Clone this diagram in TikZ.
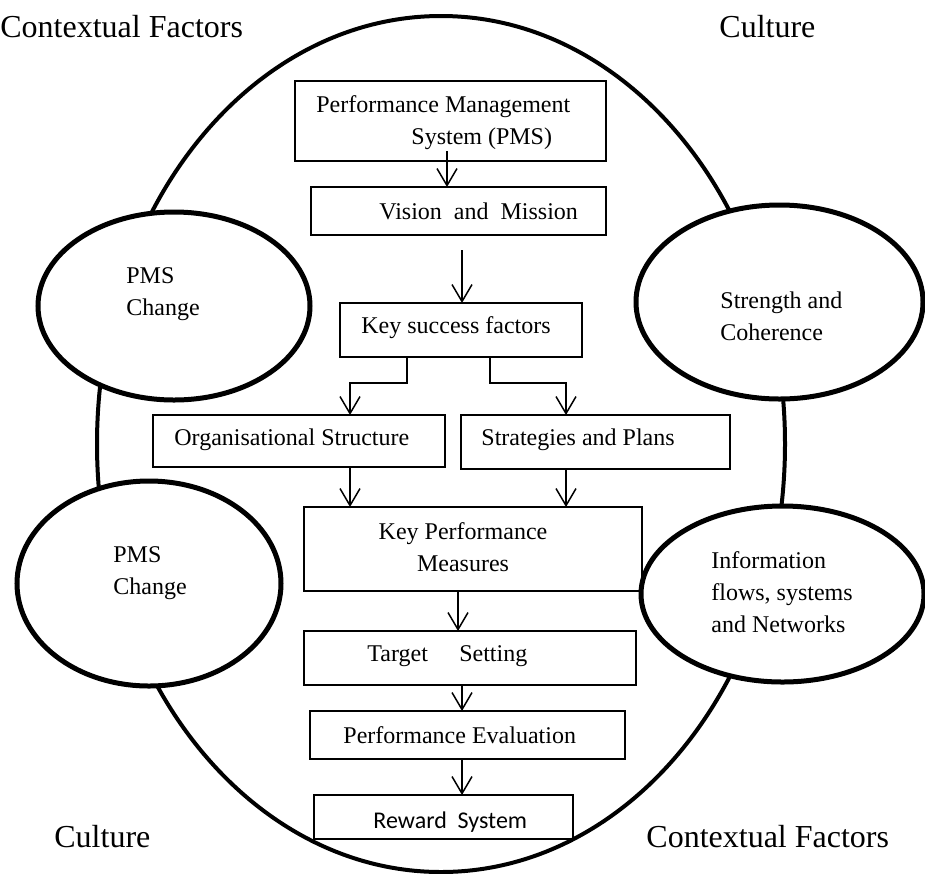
\documentclass[tikz,border=0pt]{standalone}
\usepackage{fontspec}
\setmainfont{Liberation Serif}
\newfontfamily\calibri{Carlito}
\usetikzlibrary{shapes.geometric,arrows.meta}

\begin{document}
\begin{tikzpicture}[x=0.5pt,y=-0.5pt,
  box/.style={draw,line width=0.75pt,inner sep=0pt,outer sep=0pt},
  ring/.style={draw,ellipse,line width=2.5pt,fill=white,inner sep=0pt,outer sep=0pt},
  txt/.style={inner sep=0pt,anchor=west,align=left,font=\fontsize{12}{16}\selectfont},
  big/.style={inner sep=0pt,anchor=west,font=\fontsize{16}{19}\selectfont},
  arr/.style={line width=0.75pt,-{Straight Barb[length=8.5pt,width=10pt]}}]
\useasboundingbox (0,0) rectangle (925,873);
\draw[line width=2pt] (441,444) ellipse [x radius=172pt, y radius=214pt];

% side circles
\node[ring,minimum width=136pt,minimum height=94pt] (chg1) at (174,306) {};
\node[ring,minimum width=143.5pt,minimum height=97pt] (coh) at (779.5,302) {};
\node[ring,minimum width=132pt,minimum height=102.5pt] (chg2) at (149,583.5) {};
\node[ring,minimum width=141.5pt,minimum height=88pt] (info) at (782.5,594) {};
\node[txt] (chg1t) at (126,294) {PMS\\Change};
\node[txt] (coht) at (720,316) {Strength and\\Coherence};
\node[txt] (chg2t) at (113,573) {PMS\\Change};
\node[txt] (infot) at (711,592) {Information\\flows, systems\\and Networks};

% corner labels
\node[big] (cf1) at (0,27) {Contextual Factors};
\node[big] (cu1) at (719,27) {Culture};
\node[big] (cu2) at (54,837) {Culture};
\node[big] (cf2) at (646,837) {Contextual Factors};

% boxes
\node[box,minimum width=155.5pt,minimum height=40pt] (pms) at (450.5,121) {};
\node[txt] (pmst) at (316,122.5) {Performance Management\\\hspace*{47.5pt}System (PMS)};
\node[box,line width=1.2pt,minimum width=147.5pt,minimum height=24pt] (vm) at (458.5,211) {};
\node[txt] (vmt) at (379,211) {Vision\ \ and\ \ Mission};
\node[box,minimum width=121pt,minimum height=27pt] (ksf) at (461,330) {};
\node[txt] (ksft) at (361,328) {Key success factors};
\node[box,minimum width=146pt,minimum height=26pt] (org) at (299,441) {};
\node[txt] (orgt) at (174,440) {Organisational Structure};
\node[box,minimum width=134.5pt,minimum height=27pt] (sp) at (595.5,442) {};
\node[txt] (spt) at (481,440) {Strategies and Plans};
\node[box,minimum width=169pt,minimum height=42pt] (kpm) at (473,549) {};
\node[txt,anchor=center,align=center] (kpmt) at (463,547.5) {Key Performance\\Measures};
\node[box,minimum width=166pt,minimum height=27pt] (ts) at (470,658) {};
\node[txt] (tst) at (367,656) {Target\hspace{15.7pt}Setting};
\node[box,minimum width=157.5pt,minimum height=24pt] (pe) at (467.5,735) {};
\node[txt] (pet) at (343,735) {Performance Evaluation};
\node[box,minimum width=129.5pt,minimum height=22pt] (rs) at (443.5,817) {};
\node[txt,font=\calibri\fontsize{12}{16}\selectfont] (rst) at (373,822) {Reward\ \ System};

% arrows
\draw[arr] (pms.south) ++(-3.5,-10) coordinate (a1) -- (a1 |- vm.north);
\draw[arr] (vm.south) ++(3.5,15) coordinate (a2) -- (a2 |- ksf.north);
\draw[arr] (ksf.south) ++(-54,0) -- ++(0,26) -| ([xshift=25.5pt]org.north);
\draw[arr] (ksf.south) ++(29,0) -- ++(0,26) -| ([xshift=-14.75pt]sp.north);
\draw[arr] (org.south) ++(51,0) coordinate (a5) -- (a5 |- kpm.north);
\draw[arr] (sp.south) ++(-29.5,0) coordinate (a6) -- (a6 |- kpm.north);
\draw[arr] (kpm.south) ++(-15,0) coordinate (a7) -- (a7 |- ts.north);
\draw[arr] (ts.south) ++(-8,0) coordinate (a8) -- (a8 |- pe.north);
\draw[arr] (pe.south) ++(-5.5,0) coordinate (a9) -- (a9 |- rs.north);
\end{tikzpicture}
\end{document}
